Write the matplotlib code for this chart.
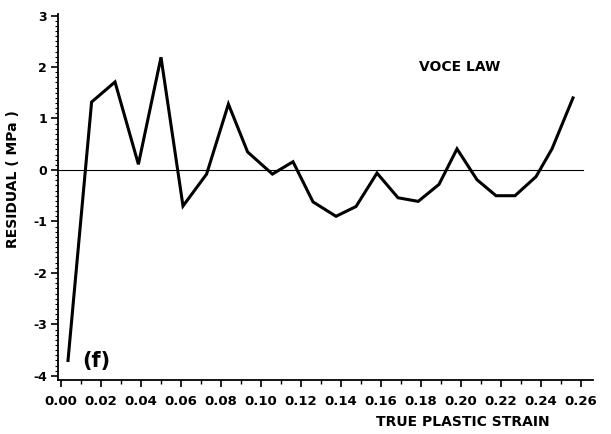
import matplotlib
matplotlib.use("Agg")
import matplotlib.pyplot as plt
from matplotlib.ticker import MultipleLocator, FormatStrFormatter

# Data
strain = [0.0035, 0.0153, 0.027, 0.0387, 0.050, 0.061, 0.0728, 0.0837, 0.0933,
          0.1057, 0.116, 0.126, 0.1375, 0.1475, 0.158, 0.1685, 0.1786, 0.189,
          0.198, 0.208, 0.2175, 0.227, 0.2375, 0.2455, 0.256]
residual = [-3.70, 1.32, 1.71, 0.11, 2.19, -0.70, -0.08, 1.28, 0.35,
            -0.08, 0.16, -0.62, -0.90, -0.71, -0.06, -0.54, -0.61, -0.28,
            0.41, -0.19, -0.50, -0.50, -0.13, 0.41, 1.40]
x_ticks = [0.00, 0.02, 0.04, 0.06, 0.08, 0.10, 0.12, 0.14, 0.16, 0.18, 0.20, 0.22, 0.24, 0.26]
y_ticks = [-4, -3, -2, -1, 0, 1, 2, 3]

plt.rcParams['axes.unicode_minus'] = False
plt.rcParams['font.family'] = ['DejaVu Sans']

fig = plt.figure(figsize=(6.11, 4.34), dpi=100)
ax = fig.add_axes([58/611, 1-380/434, (593-58)/611, (380-14)/434])

ax.plot(strain, residual, color='black', lw=2.2, solid_joinstyle='miter')
xlim = (-0.0015, 0.266)
ax.set_xlim(*xlim)
ax.set_ylim(-4.08, 3.03)
ax.axhline(0, xmin=0, xmax=(0.261 - xlim[0]) / (xlim[1] - xlim[0]), color='black', lw=0.8)

ax.spines['top'].set_visible(False)
ax.spines['right'].set_visible(False)
ax.spines['left'].set_linewidth(1.3)
ax.spines['bottom'].set_linewidth(1.3)

ax.set_xticks(x_ticks)
ax.set_yticks(y_ticks)
ax.xaxis.set_minor_locator(MultipleLocator(0.01))
ax.yaxis.set_minor_locator(MultipleLocator(0.1))
ax.xaxis.set_major_formatter(FormatStrFormatter('%.2f'))
ax.yaxis.set_major_formatter(FormatStrFormatter('%d'))
ax.tick_params(axis='x', which='major', direction='out', length=5, width=1.2, labelsize=9.5, pad=6)
ax.tick_params(axis='x', which='minor', direction='out', length=3, width=1.0)
ax.tick_params(axis='y', which='major', direction='out', length=5, width=1.2, labelsize=9, pad=3)
ax.tick_params(axis='y', which='minor', direction='out', length=2.5, width=0.8)
for lab in ax.get_xticklabels() + ax.get_yticklabels():
    lab.set_fontweight('bold')

ax.set_ylabel('RESIDUAL ( MPa )', fontsize=10, fontweight='bold')
ax.yaxis.set_label_coords(-0.071, 0.549)
ax.text(0.757, -0.115, 'TRUE PLASTIC STRAIN', transform=ax.transAxes,
        ha='center', va='center', fontsize=10, fontweight='bold')
ax.text(0.1995, 2.0, 'VOCE LAW', ha='center', va='center', fontsize=10, fontweight='bold')
ax.text(0.0175, -3.72, '(f)', ha='center', va='center', fontsize=15, fontweight='bold')

fig.savefig('out.png', dpi=100)
